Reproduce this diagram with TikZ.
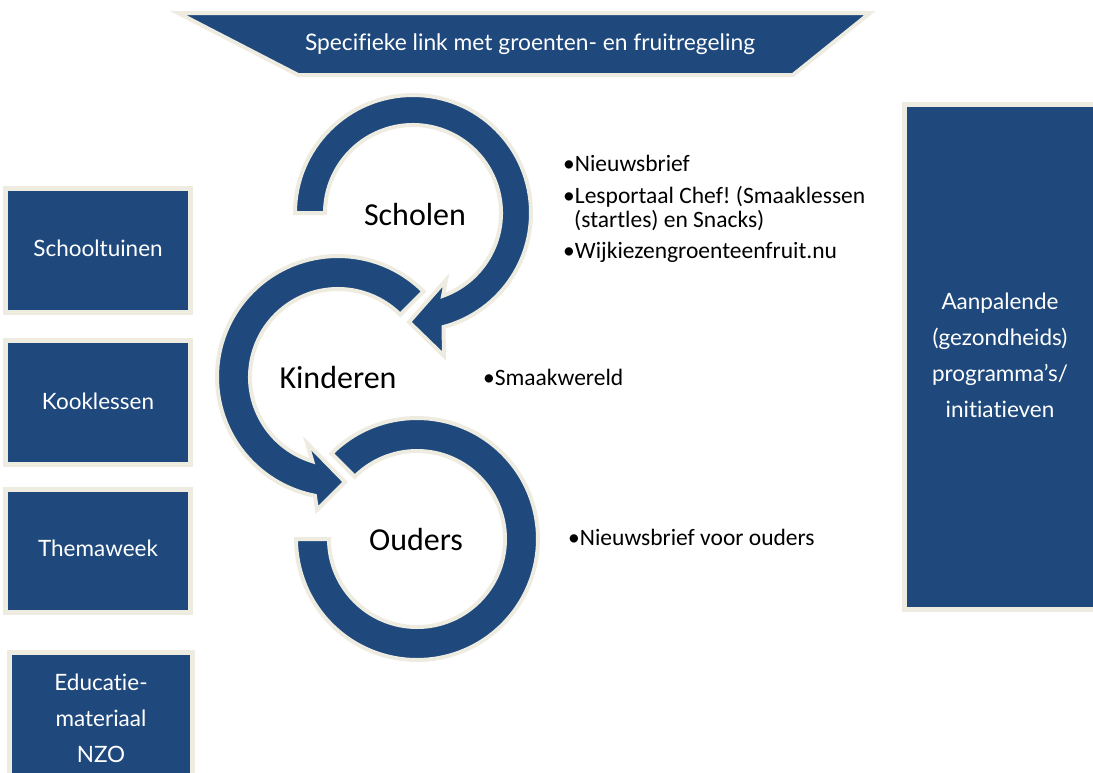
\documentclass[tikz,border=0pt]{standalone}
\usepackage{fontspec}
\setmainfont{Carlito}
\newfontfamily\boxfont[Ligatures={NoCommon,NoRare,NoContextual}]{Lato}
\usetikzlibrary{calc}
\definecolor{navy}{HTML}{1F497D}
\definecolor{cream}{HTML}{EEECE1}
\tikzset{
  panel/.style={draw=cream, fill=navy, line width=5pt},
  ring/.style={draw=cream, fill=navy, line width=4pt, line join=miter},
  boxtext/.style={text=white, font=\boxfont\fontsize{22.5}{36}\selectfont, align=center, inner sep=0pt},
  bannertext/.style={text=white, font=\boxfont\fontsize{22.8}{28}\selectfont, inner sep=0pt},
  circlabel/.style={font=\fontsize{32}{38}\selectfont, anchor=base, inner sep=0pt},
  bullet/.style={font=\frenchspacing\fontsize{23.5}{26}\selectfont, anchor=base west, inner sep=0pt}
}
\begin{document}
\begin{tikzpicture}[x=1pt,y=-1pt]
\useasboundingbox (0,0) rectangle (1093,772);

% banner
\draw[panel, line width=4pt] (178,13) -- (870,13) -- (793,75) -- (298,75) -- cycle;
\node[bannertext] (banner) at (530,44) {Specifieke link met groenten- en fruitregeling};

% left boxes
\draw[panel] (5.5,188.5) rectangle (190.5,312.5);
\node[boxtext] (b1) at (98,248) {Schooltuinen};
\draw[panel] (5.5,340.5) rectangle (190.5,464.5);
\node[boxtext] (b2) at (98,401) {Kooklessen};
\draw[panel] (5.5,489.5) rectangle (190.5,612.5);
\node[boxtext] (b3) at (98,548) {Themaweek};
\draw[panel] (9.5,652.5) rectangle (192.5,800);
\node[boxtext] (b4) at (101,718) {Educatie-\\materiaal\\NZO};

% right box
\draw[panel] (904.5,104.5) rectangle (1100,609.5);
\node[boxtext] (b5) at (1000,355) {Aanpalende\\(gezondheids)\\programma’s/\\initiatieven};

% Scholen arrow
\coordinate (cS) at (413,213);
\draw[ring] ($(cS)+(180:118)$) arc[start angle=180, end angle=435, radius=118]
  -- (444,356) -- (409,322) -- (446,280) -- ($(cS)+(70:88)$)
  arc[start angle=70, end angle=-180, radius=88] -- cycle;

% Kinderen arrow
\coordinate (cK) at (338,377);
\draw[ring] ($(cK)+(-45:121)$) arc[start angle=-45, end angle=-259, radius=121]
  -- (317,510) -- (345,482) -- (307,443) -- ($(cK)+(107:88)$)
  arc[start angle=107, end angle=315, radius=88] -- cycle;

% Ouders ring
\coordinate (cO) at (417,539);
\draw[ring] ($(cO)+(225:121)$) arc[start angle=225, end angle=540, radius=121]
  -- ($(cO)+(180:88)$) arc[start angle=540, end angle=225, radius=88] -- cycle;

% circle labels
\node[circlabel] (scholen) at (415,225) {Scholen};
\node[circlabel] (kinderen) at (338,388) {Kinderen};
\node[circlabel] (ouders) at (416,550) {Ouders};

% bullets
\node[bullet] (t1) at (563,171) {•Nieuwsbrief};
\node[bullet] (t2) at (563,203) {•Lesportaal Chef! (Smaaklessen};
\node[bullet] (t2b) at (574,227) {(startles) en Snacks)};
\node[bullet] (t3) at (563,258) {•Wijkiezengroenteenfruit.nu};
\node[bullet] (t4) at (483,385) {•Smaakwereld};
\node[bullet] (t5) at (568,545) {•Nieuwsbrief voor ouders};
\end{tikzpicture}
\end{document}
